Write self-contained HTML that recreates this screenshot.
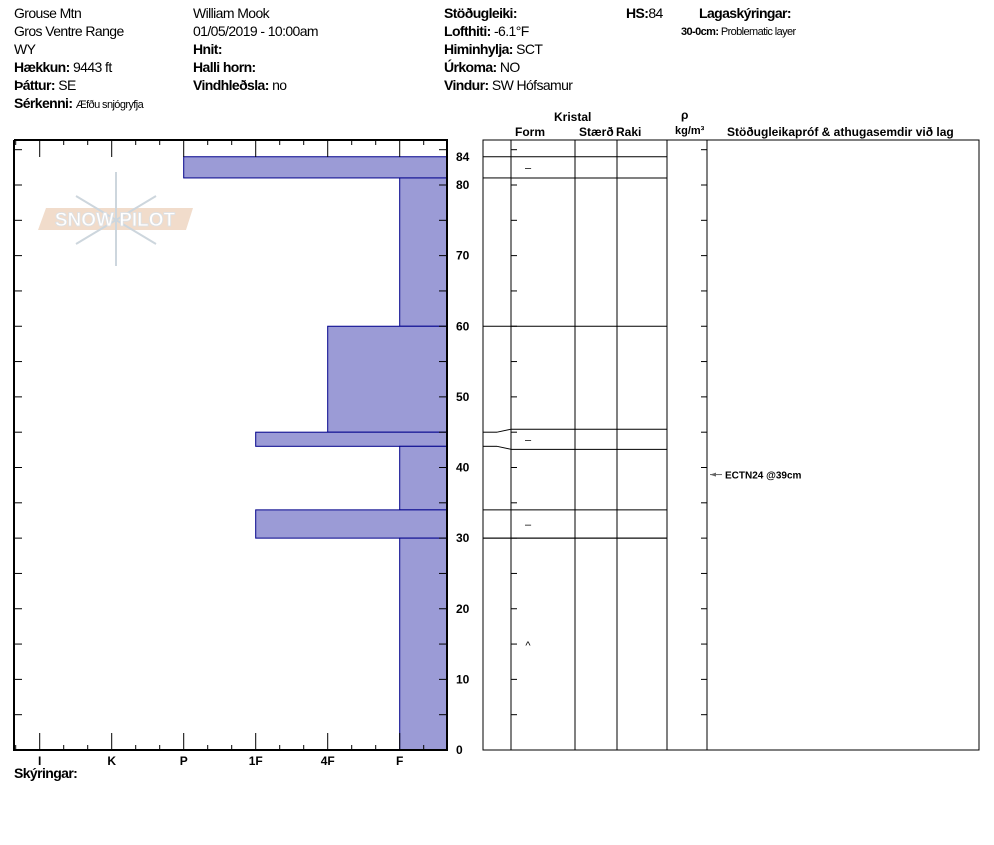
<!DOCTYPE html>
<html><head><meta charset="utf-8"><style>
body{margin:0;background:#fff;width:994px;height:840px;overflow:hidden}
svg{font-family:"Liberation Sans",sans-serif}
.h{font-size:14px;letter-spacing:-0.6px}
.b{font-weight:bold}
</style></head><body>
<svg id="s" width="994" height="840">
<g class="h">
<text x="14" y="18">Grouse Mtn</text>
<text x="14" y="36">Gros Ventre Range</text>
<text x="14" y="54">WY</text>
<text x="14" y="72"><tspan class="b">Hækkun:</tspan> 9443 ft</text>
<text x="14" y="90"><tspan class="b">Þáttur:</tspan> SE</text>
<text x="14" y="108"><tspan class="b">Sérkenni:</tspan> <tspan font-size="11">Æfðu snjógryfja</tspan></text>
<text x="193" y="18">William Mook</text>
<text x="193" y="36">01/05/2019 - 10:00am</text>
<text x="193" y="54" class="b">Hnit:</text>
<text x="193" y="72" class="b">Halli horn:</text>
<text x="193" y="90"><tspan class="b">Vindhleðsla:</tspan> no</text>
<text x="444" y="18" class="b">Stöðugleiki:</text>
<text x="444" y="36"><tspan class="b">Lofthiti:</tspan> -6.1°F</text>
<text x="444" y="54"><tspan class="b">Himinhylja:</tspan> SCT</text>
<text x="444" y="72"><tspan class="b">Úrkoma:</tspan> NO</text>
<text x="444" y="90"><tspan class="b">Vindur:</tspan>  SW Hófsamur</text>
<text x="626" y="18"><tspan class="b">HS:</tspan>84</text>
<text x="699" y="18" class="b">Lagaskýringar:</text>
<text x="681" y="35" font-size="11"><tspan class="b">30-0cm:</tspan> Problematic layer</text>
</g>
<g opacity="0.9">
<polygon points="46,208 193,208 186,230 38,230" fill="#f0d9c6"/>
<g stroke="#c8d2da" stroke-width="2" fill="none"><line x1="116" y1="172" x2="116" y2="266"/><line x1="76" y1="196" x2="156" y2="244"/><line x1="76" y1="244" x2="156" y2="196"/></g>
<text x="115" y="226" font-size="19" font-weight="bold" fill="#fff" stroke="#d8dde2" stroke-width="0.8" text-anchor="middle">SNOW PILOT</text>
</g>
<g id="plot"></g>
<text x="14" y="778" class="h b">Skýringar:</text>
<g font-size="12" font-weight="bold">
<text x="554" y="121">Kristal</text>
<text x="515" y="136">Form</text>
<text x="579" y="136">Stærð</text>
<text x="616" y="136">Raki</text>
<text x="681" y="119">ρ</text>
<text x="675" y="134" font-size="11">kg/m³</text>
<text x="727" y="136">Stöðugleikapróf &amp; athugasemdir við lag</text>
</g>
</svg>
<script>
const depthTop=[84,81,60,45,43,34,30];
const depthBot=[81,60,45,43,34,30,0];
const hardness=["P","F","4F","1F","F","1F","F"];
const grainForm=["–","","","–","","–","^"];
const hardLabels=["I","K","P","1F","4F","F"];
const depthTicks=[0,10,20,30,40,50,60,70,80,84];
const testText="ECTN24 @39cm", testDepth=39;
const NS="http://www.w3.org/2000/svg", g=document.getElementById('plot');
const y=d=>750-d*7.0625;
const hx=h=>39.7+hardLabels.indexOf(h)*72;
function el(t,a,p){const e=document.createElementNS(NS,t);for(const k in a)e.setAttribute(k,a[k]);(p||g).appendChild(e);return e;}
// layers
depthTop.forEach((t,i)=>{
 const r=el('rect',{x:hx(hardness[i]),y:y(t),width:447-hx(hardness[i]),height:y(depthBot[i])-y(t),fill:'#9b9bd6',stroke:'#00008b','stroke-width':1});
 
 
});
// left frame
const fr=el('path',{d:'M14,140V750H447V140H14',fill:'none',stroke:'#000','stroke-width':2});


for(let x=15.7;x<447;x+=24){const maj=Math.abs((x-39.7)%72)<1;const L=maj?17:5;
 el('line',{x1:x,y1:750,x2:x,y2:750-L,stroke:'#000'});el('line',{x1:x,y1:140,x2:x,y2:140+L,stroke:'#000'});}
for(let d=5;d<87;d+=5){el('line',{x1:14,y1:y(d),x2:22,y2:y(d),stroke:'#000'});el('line',{x1:447,y1:y(d),x2:439,y2:y(d),stroke:'#000'});
 el('line',{x1:511,y1:y(d),x2:517,y2:y(d),stroke:'#000'});el('line',{x1:707,y1:y(d),x2:701,y2:y(d),stroke:'#000'});}
hardLabels.forEach((h,i)=>{const t=el('text',{x:hx(h),y:765,'font-size':12,'font-weight':'bold','text-anchor':'middle'});t.textContent=h;
 
 });
depthTicks.forEach(d=>{const t=el('text',{x:456,y:y(d)+4,'font-size':12,'font-weight':'bold'});t.textContent=d;
 
 });
// right table
const rb=el('rect',{x:483,y:140,width:496,height:610,fill:'none',stroke:'#000'});


[511,575,617,667,707].forEach(x=>el('line',{x1:x,y1:140,x2:x,y2:750,stroke:'#000'}));
const bounds=[...new Set(depthTop)].concat([30]);
const spread=[0,0,0,1,-1,0,0];
depthTop.forEach((t,i)=>{
 const yy=y(t), off=spread[i]*3; // visually separated thin layer lines
 const yr=yy-off;
 el('line',{x1:483,y1:yy,x2:497,y2:yy,stroke:'#000'});
 el('line',{x1:497,y1:yy,x2:511,y2:yr,stroke:'#000'});
 el('line',{x1:511,y1:yr,x2:667,y2:yr,stroke:'#000'});
 if(grainForm[i]){const mid=(y(t)+y(depthBot[i]))/2;const f=el('text',{x:528,y:depthBot[i]==0?y(15)+5:mid+4,'font-size':11,'text-anchor':'middle'});f.textContent=grainForm[i];
  
  }
});
el('line',{x1:483,y1:y(30),x2:667,y2:y(30),stroke:'#000'});
el('path',{d:`M710,${y(testDepth)}l6,-2v4z`,fill:'#666'});
el('line',{x1:710,y1:y(testDepth),x2:722,y2:y(testDepth),stroke:'#666'});
const tt=el('text',{x:725,y:y(testDepth)+4,'font-size':10,'font-weight':'bold'});tt.textContent=testText;


</script>
</body></html>
